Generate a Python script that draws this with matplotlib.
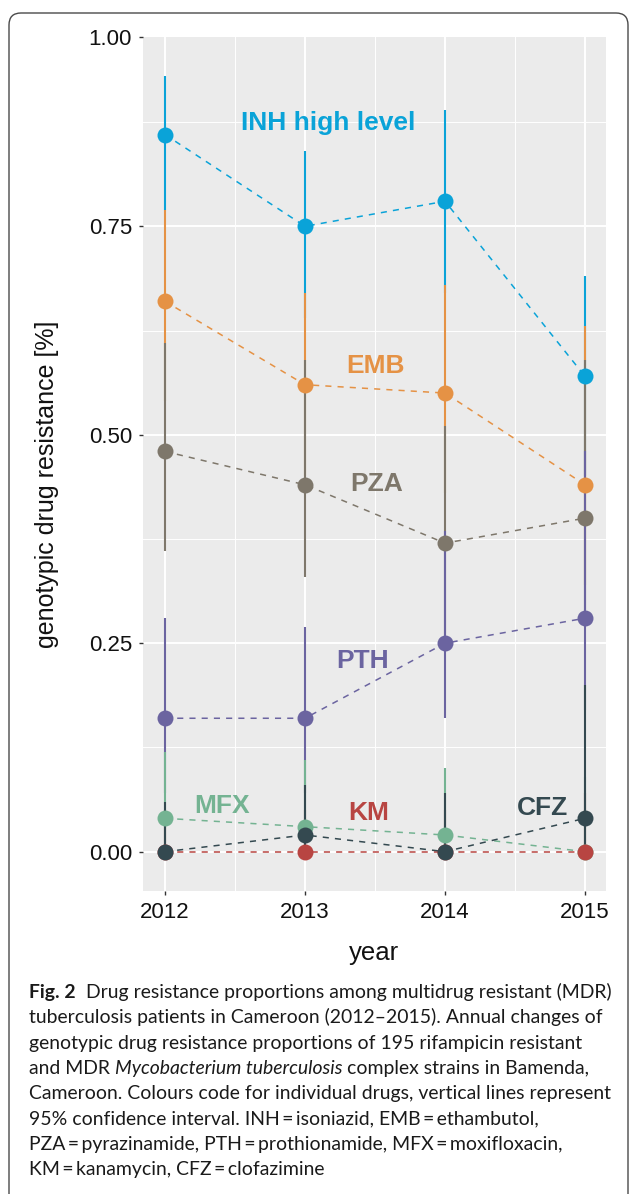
import matplotlib
matplotlib.use('Agg')
import matplotlib.pyplot as plt
from matplotlib.patches import FancyBboxPatch

W, H = 630, 1194

# data (proportions)
years = [2012, 2013, 2014, 2015]
drugs = ['INH', 'EMB', 'PZA', 'PTH', 'MFX', 'KM', 'CFZ']
inh_val = [0.86, 0.75, 0.78, 0.57]
inh_lo = [0.77, 0.64, 0.67, 0.45]
inh_hi = [0.93, 0.84, 0.89, 0.69]
emb_val = [0.66, 0.56, 0.55, 0.44]
emb_lo = [0.54, 0.45, 0.43, 0.32]
emb_hi = [0.77, 0.67, 0.68, 0.63]
pza_val = [0.48, 0.44, 0.37, 0.40]
pza_lo = [0.36, 0.33, 0.26, 0.29]
pza_hi = [0.61, 0.59, 0.51, 0.59]
pth_val = [0.16, 0.16, 0.25, 0.28]
pth_lo = [0.07, 0.07, 0.16, 0.17]
pth_hi = [0.28, 0.27, 0.385, 0.48]
mfx_val = [0.04, 0.03, 0.02, 0.00]
mfx_lo = [0.0, 0.0, 0.0, 0.0]
mfx_hi = [0.12, 0.11, 0.10, 0.09]
km_val = [0.0, 0.0, 0.0, 0.0]
km_lo = [0.0, 0.0, 0.0, 0.0]
km_hi = [0.05, 0.05, 0.05, 0.07]
cfz_val = [0.0, 0.02, 0.0, 0.04]
cfz_lo = [0.0, 0.0, 0.0, 0.0]
cfz_hi = [0.06, 0.08, 0.07, 0.20]

series = {
    'INH': (inh_val, inh_lo, inh_hi),
    'EMB': (emb_val, emb_lo, emb_hi),
    'PZA': (pza_val, pza_lo, pza_hi),
    'PTH': (pth_val, pth_lo, pth_hi),
    'MFX': (mfx_val, mfx_lo, mfx_hi),
    'KM': (km_val, km_lo, km_hi),
    'CFZ': (cfz_val, cfz_lo, cfz_hi),
}
colors = {
    'INH': '#0AA3D8', 'EMB': '#E59245', 'PZA': '#7E776B', 'PTH': '#6B64A0',
    'MFX': '#74B392', 'KM': '#B84542', 'CFZ': '#344950',
}
# label text and where it sits (year, value of baseline)
labels = {
    'INH': ('INH high level', 2013.164, 0.865),
    'EMB': ('EMB', 2013.504, 0.574),
    'PZA': ('PZA', 2013.514, 0.432),
    'PTH': ('PTH', 2013.41, 0.220),
    'MFX': ('MFX', 2012.41, 0.046),
    'KM': ('KM', 2013.454, 0.038),
    'CFZ': ('CFZ', 2014.696, 0.044),
}

caption = [
    [('Fig. 2', 'bold', 'normal'), ('  Drug resistance proportions among multidrug resistant (MDR)', 'normal', 'normal')],
    [('tuberculosis patients in Cameroon (2012\u20132015). Annual changes of', 'normal', 'normal')],
    [('genotypic drug resistance proportions of 195 rifampicin resistant', 'normal', 'normal')],
    [('and MDR ', 'normal', 'normal'), ('Mycobacterium tuberculosis', 'normal', 'italic'),
     (' complex strains in Bamenda,', 'normal', 'normal')],
    [('Cameroon. Colours code for individual drugs, vertical lines represent', 'normal', 'normal')],
    [('95% confidence interval. INH\u2009=\u2009isoniazid, EMB\u2009=\u2009ethambutol,', 'normal', 'normal')],
    [('PZA\u2009=\u2009pyrazinamide, PTH\u2009=\u2009prothionamide, MFX\u2009=\u2009moxifloxacin,', 'normal', 'normal')],
    [('KM\u2009=\u2009kanamycin, CFZ\u2009=\u2009clofazimine', 'normal', 'normal')],
]

plt.rcParams['font.family'] = ['Liberation Sans', 'DejaVu Sans']

fig = plt.figure(figsize=(W / 100, H / 100), dpi=100)

# outer rounded frame of the figure box
frame = FancyBboxPatch((9, -20), 619, H - 13 + 20, boxstyle='round,pad=0,rounding_size=12',
                       transform=None, facecolor='none', edgecolor='#4a4a4a', linewidth=1.0)
fig.patches.append(frame)

ax = fig.add_axes([143 / W, 1 - 890.7 / H, (605.6 - 143) / W, (890.7 - 37) / H])
ax.set_facecolor('#EBEBEB')
for s in ax.spines.values():
    s.set_visible(False)

y_top = 0.977
ax.set_xlim(2011.843, 2015.147)
ax.set_ylim(-0.0468, y_top)

# panel grid
for y in [0.125, 0.375, 0.625, 0.875]:
    ax.axhline(y, color='white', lw=0.7, zorder=0)
for x in [2012.5, 2013.5, 2014.5]:
    ax.axvline(x, color='white', lw=0.7, zorder=0)
for y in [0, 0.25, 0.5, 0.75]:
    ax.axhline(y, color='white', lw=1.4, zorder=0)
for x in years:
    ax.axvline(x, color='white', lw=1.4, zorder=0)

# confidence intervals, in drawing order
for i, d in enumerate(drugs):
    val, lo, hi = series[d]
    ax.vlines(years, lo, hi, color=colors[d], lw=1.5, zorder=2 + i * 0.01)
for i, d in enumerate(drugs):
    val, lo, hi = series[d]
    ax.plot(years, val, color=colors[d], lw=1.1, dashes=(4, 4), zorder=3 + i * 0.01)
for i, d in enumerate(drugs):
    val, lo, hi = series[d]
    ax.plot(years, val, 'o', color=colors[d], ms=11.5, mec='none', zorder=4 + i * 0.01)

for d in drugs:
    txt, x, y = labels[d]
    ax.text(x, y, txt, color=colors[d], fontsize=19, fontweight='bold',
            ha='center', va='baseline', zorder=5)

ax.set_xticks(years)
ax.set_xticklabels([str(y) for y in years])
ax.set_yticks([0, 0.25, 0.5, 0.75, y_top])
ax.set_yticklabels(['0.00', '0.25', '0.50', '0.75', '1.00'])
ax.tick_params(length=3, width=1, color='#333333', labelsize=16, labelcolor='#111111', pad=5)

fig.text(374 / W, 1 - 960 / H, 'year', ha='center', va='baseline', fontsize=18.5, color='#111111')
fig.text(47.5 / W, 1 - 484 / H, 'genotypic drug resistance [%]', rotation=90,
         ha='center', va='center', fontsize=18, color='#111111')

# caption below the chart
renderer = fig.canvas.get_renderer()
cap_family = ['Lato', 'DejaVu Sans']


def piece_width(txt, size, weight, style):
    a = fig.text(0, 0, '|' + txt + '|', fontsize=size, family=cap_family, weight=weight, style=style)
    b = fig.text(0, 0, '||', fontsize=size, family=cap_family, weight=weight, style=style)
    w = a.get_window_extent(renderer).width - b.get_window_extent(renderer).width
    a.remove()
    b.remove()
    return w


# fit first caption line to its width in the picture
w0 = sum(piece_width(t, 10, wt, st) for t, wt, st in caption[0])
cap_size = 10 * 582 / w0

x0, base0, step = 29, 998, 25.3
for k, line in enumerate(caption):
    x = x0
    yb = base0 + k * step
    for t, wt, st in line:
        fig.text(x / W, 1 - yb / H, t, fontsize=cap_size, family=cap_family, weight=wt, style=st,
                 ha='left', va='baseline', color='#1a1a1a')
        x += piece_width(t, cap_size, wt, st)

fig.savefig('out.png', dpi=100)
